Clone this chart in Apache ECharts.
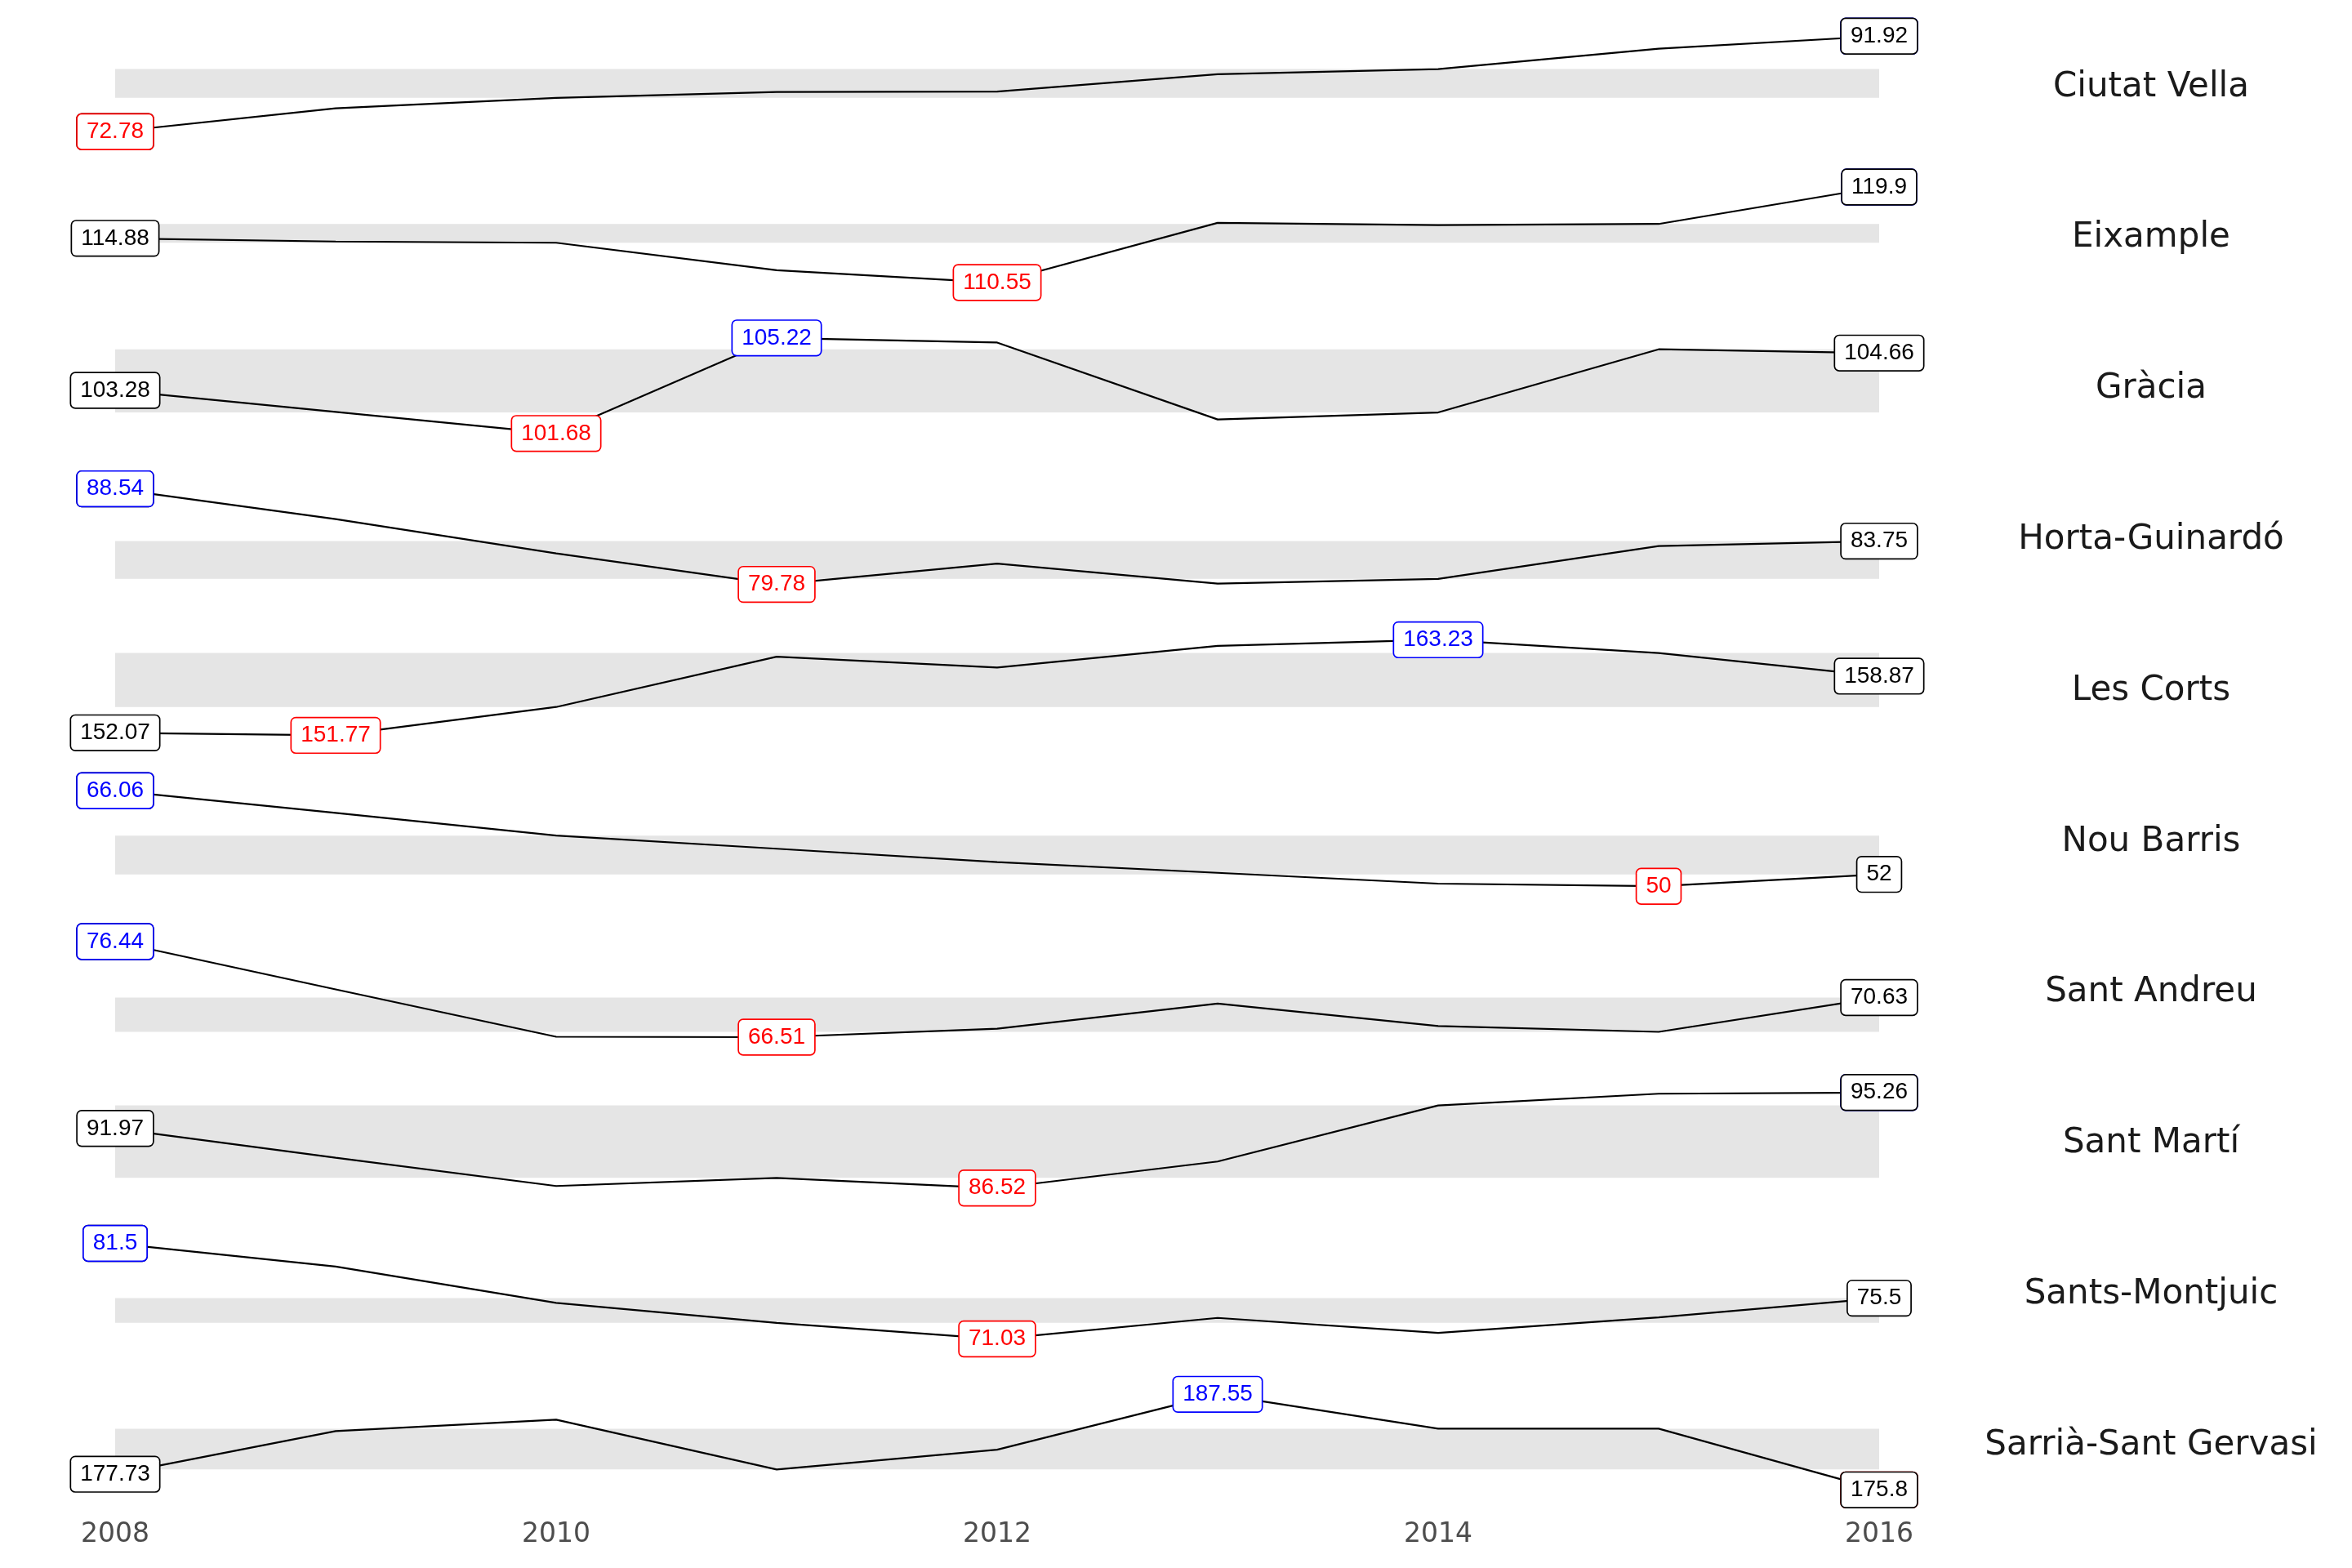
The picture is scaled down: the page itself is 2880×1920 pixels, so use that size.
<!DOCTYPE html>
<html><head><meta charset="utf-8">
<script src="https://cdn.jsdelivr.net/npm/echarts@6/dist/echarts.min.js"></script>
<style>html,body{margin:0;padding:0;background:#fff}#c{width:2880px;height:1920px}</style>
</head><body><div id="c"></div>
<script>
const years = [2008, 2009, 2010, 2011, 2012, 2013, 2014, 2015, 2016];
const districts = ['Ciutat Vella', 'Eixample', 'Gràcia', 'Horta-Guinardó', 'Les Corts',
  'Nou Barris', 'Sant Andreu', 'Sant Martí', 'Sants-Montjuic', 'Sarrià-Sant Gervasi'];
const ciutatVella   = [72.78, 77.45, 79.55, 80.72, 80.83, 84.28, 85.33, 89.41, 91.92];
const eixample      = [114.88, 114.57, 114.45, 111.76, 110.55, 116.40, 116.17, 116.29, 119.9];
const gracia        = [103.28, 102.48, 101.68, 105.22, 105.05, 102.20, 102.46, 104.80, 104.66];
const hortaGuinardo = [88.54, 85.77, 82.63, 79.78, 81.69, 79.86, 80.29, 83.30, 83.75];
const lesCorts      = [152.07, 151.77, 155.17, 161.20, 159.90, 162.49, 163.23, 161.65, 158.87];
const nouBarris     = [66.06, 62.32, 58.52, 56.31, 54.06, 52.26, 50.44, 50, 52];
const santAndreu    = [76.44, 71.47, 66.55, 66.51, 67.39, 70.00, 67.66, 67.06, 70.63];
const santMarti     = [91.97, 89.30, 86.71, 87.45, 86.52, 88.95, 94.08, 95.15, 95.26];
const santsMontjuic = [81.5, 78.97, 74.99, 72.80, 71.03, 73.34, 71.69, 73.39, 75.5];
const sarriaSantGervasi = [177.73, 183.03, 184.44, 178.31, 180.75, 187.55, 183.33, 183.33, 175.8];
const allValues = [ciutatVella, eixample, gracia, hortaGuinardo, lesCorts,
  nouBarris, santAndreu, santMarti, santsMontjuic, sarriaSantGervasi];

function quantile(arr, p) {
  const s = arr.slice().sort((a, b) => a - b);
  const h = (s.length - 1) * p;
  const lo = Math.floor(h), hi = Math.ceil(h);
  return s[lo] + (h - lo) * (s[hi] - s[lo]);
}

const labelBase = {
  show: true, position: 'inside', formatter: p => String(p.value[1]), opacity: 1,
  fontFamily: '"Liberation Sans", Arial, sans-serif', fontSize: 28, lineHeight: 28,
  backgroundColor: '#ffffff', borderWidth: 1.7, borderRadius: 5,
  padding: [7, 11, 7, 11], color: '#000000', borderColor: '#000000'
};

const grids = [], xAxes = [], yAxes = [], series = [], graphics = [];
const TOP0 = 38.4, PITCH = 184.79, H = 128.7;

allValues.forEach((vals, i) => {
  const mn = Math.min(...vals), mx = Math.max(...vals), r = mx - mn;
  const iMin = vals.indexOf(mn), iMax = vals.indexOf(mx);
  const q1 = quantile(vals, 0.25), q3 = quantile(vals, 0.75);
  const top = TOP0 + i * PITCH;
  grids.push({ left: 141, width: 2160, top: top, height: H });
  xAxes.push({
    gridIndex: i, type: 'value', min: 2008, max: 2016, interval: 2, show: i === allValues.length - 1,
    axisLine: { show: false }, axisTick: { show: false }, splitLine: { show: false },
    axisLabel: { show: true, margin: 33, fontSize: 33, lineHeight: 33, color: '#4D4D4D',
      fontFamily: '"DejaVu Sans", sans-serif', formatter: v => String(v) }
  });
  yAxes.push({ gridIndex: i, type: 'value', min: mn - 0.05 * r, max: mx + 0.05 * r, show: false,
    splitLine: { show: false } });
  const pts = years.map((y, k) => [y, vals[k]]);
  series.push({
    type: 'line', xAxisIndex: i, yAxisIndex: i, data: pts, showSymbol: false, silent: true,
    lineStyle: { opacity: 0, width: 0 }, z: 1,
    markArea: { silent: true, itemStyle: { color: '#E5E5E5' },
      data: [[{ coord: [years[0], q1] }, { coord: [years[years.length - 1], q3] }]] }
  });
  series.push({
    type: 'line', xAxisIndex: i, yAxisIndex: i, data: pts, showSymbol: false, silent: true,
    lineStyle: { color: '#000000', width: 2.2 }, z: 2
  });
  const sc = {
    type: 'scatter', xAxisIndex: i, yAxisIndex: i, symbolSize: 0, silent: true,
    itemStyle: { opacity: 1 }, label: Object.assign({}, labelBase)
  };
  series.push(Object.assign({}, sc, { z: 3, data: [pts[0]] }));
  series.push(Object.assign({}, sc, { z: 4, data: [
      { value: pts[iMin], label: { color: '#FF0000', borderColor: '#FF0000' } },
      { value: pts[iMax], label: { color: '#0000FF', borderColor: '#0000FF' } }
  ] }));
  series.push(Object.assign({}, sc, { z: 5, data: [pts[pts.length - 1]] }));
  graphics.push({
    type: 'text', x: 2634, y: top + H / 2 + 4, silent: true,
    style: { text: districts[i], fontSize: 42, fontFamily: '"DejaVu Sans", sans-serif',
      fill: '#1A1A1A', align: 'center', verticalAlign: 'middle' }
  });
});

const chart = echarts.init(document.getElementById('c'), null, { renderer: 'canvas' });
chart.setOption({
  animation: false, backgroundColor: '#ffffff',
  grid: grids, xAxis: xAxes, yAxis: yAxes, series: series, graphic: graphics
});
</script>
</body></html>
